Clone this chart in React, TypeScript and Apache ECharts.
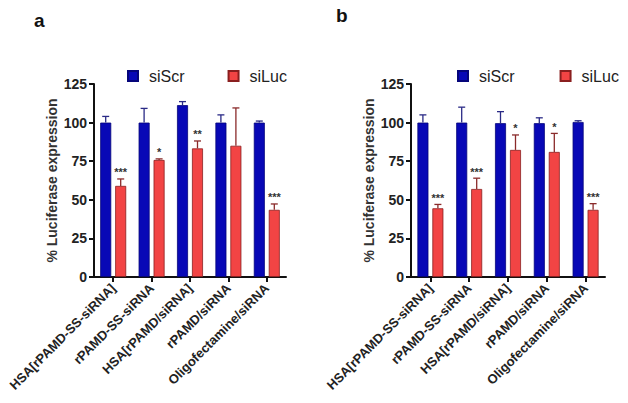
import React, { useEffect, useRef } from "react";
import * as echarts from "echarts";

const categories = [
  "HSA[rPAMD-SS-siRNA]",
  "rPAMD-SS-siRNA",
  "HSA[rPAMD/siRNA]",
  "rPAMD/siRNA",
  "Oligofectamine/siRNA",
];
const yTicks = [0, 25, 50, 75, 100, 125];

const aScr = [100, 100, 111.3, 100, 100];
const aScrErr = [4, 9.2, 2.3, 5, 1];
const aLuc = [59, 75.8, 83.3, 85, 43.5];
const aLucErr = [4.5, 0.7, 4.8, 24.5, 3.8];
const aScrStars = ["", "", "", "", ""];
const aLucStars = ["***", "*", "**", "", "***"];

const bScr = [100, 100, 99.6, 99.6, 100.4];
const bScrErr = [5, 10, 7.5, 3.5, 0.8];
const bLuc = [44.5, 57, 82.3, 81, 43.5];
const bLucErr = [2.5, 7, 9.7, 12, 4];
const bScrStars = ["", "", "", "", ""];
const bLucStars = ["***", "***", "*", "*", "***"];

const BLUE = "#0808b6";
const BLUE_BORDER = "#05057a";
const RED = "#f24444";
const RED_BORDER = "#8a1f1f";
const FONT = "'Liberation Sans', Arial, sans-serif";

const BAR_W = 11;
const OFFSET = 7.5;

function errSeries(
  name: string,
  gridIdx: number,
  vals: number[],
  errs: number[],
  stars: string[],
  off: number,
  color: string
) {
  return {
    type: "custom",
    name: name + "-err",
    xAxisIndex: gridIdx,
    yAxisIndex: gridIdx,
    silent: true,
    z: 5,
    data: vals.map((v, i) => [i, v, errs[i], stars[i]]),
    encode: { x: 0, y: 1 },
    renderItem: (params: any, api: any) => {
      const i = api.value(0);
      const v = api.value(1);
      const e = api.value(2);
      const s = stars[i];
      const p0 = api.coord([i, v]);
      const p1 = api.coord([i, v + e]);
      const x = p0[0] + off;
      const children: any[] = [
        {
          type: "line",
          shape: { x1: x, y1: p0[1], x2: x, y2: p1[1] },
          style: { stroke: color, lineWidth: 1.3 },
        },
        {
          type: "line",
          shape: { x1: x - 3.5, y1: p1[1], x2: x + 3.5, y2: p1[1] },
          style: { stroke: color, lineWidth: 1.3 },
        },
      ];
      if (s) {
        children.push({
          type: "text",
          x: x,
          y: p1[1] - 1,
          style: {
            text: s,
            fontSize: 11,
            fontWeight: "bold",
            fontFamily: FONT,
            fill: "#333",
            align: "center",
            verticalAlign: "bottom",
          },
        });
      }
      return { type: "group", children };
    },
  };
}

function barSeries(name: string, gridIdx: number, vals: number[], color: string, border: string) {
  return {
    type: "bar",
    name,
    xAxisIndex: gridIdx,
    yAxisIndex: gridIdx,
    data: vals,
    barWidth: BAR_W,
    barGap: "36%",
    itemStyle: { color, borderColor: border, borderWidth: 0.8 },
  };
}

const axisLineStyle = { show: true, lineStyle: { color: "#111", width: 2 } };

function xAxis(gridIdx: number) {
  return {
    type: "category",
    gridIndex: gridIdx,
    data: categories,
    axisLine: axisLineStyle,
    axisTick: { show: true, alignWithLabel: true, length: 5, lineStyle: { color: "#111", width: 2 } },
    axisLabel: {
      rotate: 45,
      margin: 9,
      interval: 0,
      fontSize: 13,
      fontWeight: "bold",
      fontFamily: FONT,
      color: "#222",
    },
  };
}

function yAxis(gridIdx: number) {
  return {
    type: "value",
    gridIndex: gridIdx,
    min: yTicks[0],
    max: yTicks[yTicks.length - 1],
    interval: 25,
    name: "% Luciferase expression",
    nameLocation: "middle",
    nameGap: 35,
    nameTextStyle: { fontSize: 14, fontWeight: "bold", fontFamily: FONT, color: "#333" },
    axisLine: axisLineStyle,
    axisTick: { show: true, length: 5, lineStyle: { color: "#111", width: 2 } },
    splitLine: { show: false },
    axisLabel: { margin: 7, fontSize: 14, fontWeight: "bold", fontFamily: FONT, color: "#222" },
  };
}

function legend(left: number, gap: number) {
  return {
    left,
    top: 68,
    width: 240,
    padding: 0,
    orient: "horizontal",
    data: ["siScr", "siLuc"],
    icon: "rect",
    itemWidth: 10,
    itemHeight: 10,
    itemGap: gap,
    selectedMode: false,
    formatter: (n: string) => "{g|}{t|" + n + "}",
    textStyle: {
      fontSize: 16,
      fontFamily: FONT,
      color: "#222",
      rich: {
        g: { width: 6 },
        t: { fontSize: 16, fontFamily: FONT, color: "#222" },
      },
    },
  };
}

export default function App() {
  const ref = useRef<HTMLDivElement>(null);
  useEffect(() => {
    if (!ref.current) return;
    const chart = echarts.init(ref.current, undefined, { renderer: "svg" });
    chart.setOption({
      animation: false,
      backgroundColor: "#fff",
      legend: [legend(127, 43), legend(457, 45)],
      grid: [
        { left: 94, top: 84, width: 192, height: 193 },
        { left: 411, top: 84, width: 194, height: 193 },
      ],
      xAxis: [xAxis(0), xAxis(1)],
      yAxis: [yAxis(0), yAxis(1)],
      graphic: [
        {
          type: "text",
          left: 34,
          top: 11,
          style: { text: "a", fontSize: 19, fontWeight: "bold", fontFamily: FONT, fill: "#111" },
        },
        {
          type: "text",
          left: 336,
          top: 6,
          style: { text: "b", fontSize: 19, fontWeight: "bold", fontFamily: FONT, fill: "#111" },
        },
      ],
      series: [
        barSeries("siScr", 0, aScr, BLUE, BLUE_BORDER),
        barSeries("siLuc", 0, aLuc, RED, RED_BORDER),
        barSeries("siScr", 1, bScr, BLUE, BLUE_BORDER),
        barSeries("siLuc", 1, bLuc, RED, RED_BORDER),
        errSeries("siScr", 0, aScr, aScrErr, aScrStars, -OFFSET, "#2a2a86"),
        errSeries("siLuc", 0, aLuc, aLucErr, aLucStars, OFFSET, "#8a2a2a"),
        errSeries("siScr", 1, bScr, bScrErr, bScrStars, -OFFSET, "#2a2a86"),
        errSeries("siLuc", 1, bLuc, bLucErr, bLucStars, OFFSET, "#8a2a2a"),
      ],
    });
    return () => chart.dispose();
  }, []);
  return (
    <div
      ref={ref}
      style={{ position: "fixed", left: 0, top: 0, width: 628, height: 403, background: "#fff" }}
    />
  );
}
